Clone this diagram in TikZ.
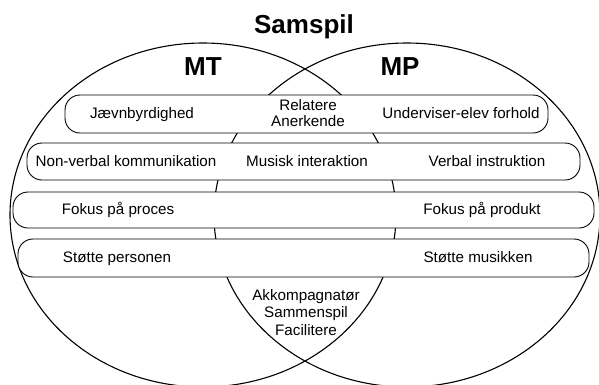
\documentclass[tikz,border=0pt]{standalone}
\usepackage{fontspec}
\setmainfont{Liberation Sans}
\begin{document}
\begin{tikzpicture}[x=1pt,y=-1pt,font=\fontsize{15.2}{16}\selectfont,
  ring/.style={line width=1.1pt},
  row/.style={draw,fill=white,line width=0.9pt,rounded corners=15pt},
  head/.style={font=\bfseries\fontsize{26}{30}\selectfont}]
\useasboundingbox (0,0) rectangle (599,384);

% the two circles
\draw[ring] (203,215) ellipse [x radius=193, y radius=172];
\draw[ring] (407,215) ellipse [x radius=193, y radius=172];

% rows across both
\draw[row] (65,95) rectangle (548,133);
\draw[row] (27,143) rectangle (580,180);
\draw[row] (13,192) rectangle (594,228);
\draw[row] (18,239) rectangle (589,277);

\node[head,anchor=base] (title) at (304,33) {Samspil};
\node[head] (mt) at (203,66.5) {MT};
\node[head] (mp) at (400,66.5) {MP};

\node[anchor=base] (jaevn) at (142,118) {Jævnbyrdighed};
\node[align=center] (relatere) at (308,113) {Relatere\\Anerkende};
\node[anchor=base] (underv) at (461,118) {Underviser-elev forhold};

\node[anchor=base] (nonverbal) at (126,166) {Non-verbal kommunikation};
\node[anchor=base] (musisk) at (307,166) {Musisk interaktion};
\node[anchor=base] (verbal) at (487,166) {Verbal instruktion};

\node[anchor=base] (proces) at (118,214) {Fokus på proces};
\node[anchor=base] (produkt) at (482,214) {Fokus på produkt};

\node[anchor=base] (person) at (117,262) {Støtte personen};
\node[anchor=base] (musik) at (478,262) {Støtte musikken};

\node[align=center,font=\fontsize{15.2}{17.5}\selectfont] (akk) at (306,312.5)
  {Akkompagnatør\\Sammenspil\\Facilitere};

\end{tikzpicture}
\end{document}
